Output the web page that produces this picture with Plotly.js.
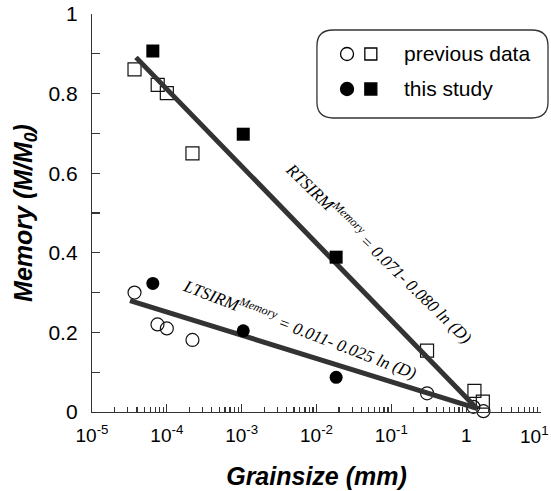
<!DOCTYPE html>
<html>
<head>
<meta charset="utf-8">
<script src="https://cdn.plot.ly/plotly-3.0.1.min.js"></script>
<style>html,body{margin:0;padding:0;background:#fff}#chart{width:551px;height:491px}</style>
</head>
<body>
<div id="chart"></div>
<script>
// ---- data (grain size in mm, memory M/M0) ----
const prevCircleX = [3.7e-5, 7.5e-5, 1.0e-4, 2.2e-4, 0.30, 1.25, 1.70];
const prevCircleY = [0.300, 0.220, 0.210, 0.181, 0.047, 0.013, 0.002];
const prevSquareX = [3.7e-5, 7.55e-5, 1.0e-4, 2.2e-4, 0.30, 1.29, 1.67];
const prevSquareY = [0.861, 0.822, 0.801, 0.650, 0.154, 0.053, 0.026];
const studyCircleX = [6.5e-5, 1.05e-3, 0.0183];
const studyCircleY = [0.323, 0.204, 0.087];
const studySquareX = [6.5e-5, 1.05e-3, 0.0183];
const studySquareY = [0.907, 0.698, 0.389];
const rtFitX = [3.87e-5, 1.39];
const rtFitY = [0.891, 0.009];
const ltFitX = [3.22e-5, 1.39];
const ltFitY = [0.280, 0.009];
const xTickVals = [1e-5, 1e-4, 1e-3, 1e-2, 1e-1, 1, 10];
const xTickText = ['10<sup>-5</sup>', '10<sup>-4</sup>', '10<sup>-3</sup>', '10<sup>-2</sup>', '10<sup>-1</sup>', '1', ''];
const lastTickText = '10<sup>1</sup>';
const minorMultipliers = [2, 3, 4, 5, 6, 7, 8, 9];
const legendLabels = ['previous data', 'this study'];
const ltLabel = '<i>LTSIRM<sup>Memory</sup> = 0.011- 0.025 ln (D)</i>';
const rtLabel = '<i>RTSIRM<sup>Memory</sup> = 0.071- 0.080 ln (D)</i>';

// minor log ticks (axis decoration): 2..9 within each decade
const xMinorVals = [];
xTickVals.slice(0, -1).forEach(d => minorMultipliers.forEach(m => xMinorVals.push(d * m)));

const lineColor = '#333333';
const axisColor = '#333333';
const traces = [
  {x: prevCircleX, y: prevCircleY, type: 'scatter', mode: 'markers', cliponaxis: false,
   marker: {symbol: 'circle-open', size: 13, color: '#111', line: {width: 1.2}}},
  {x: prevSquareX, y: prevSquareY, type: 'scatter', mode: 'markers', cliponaxis: false,
   marker: {symbol: 'square-open', size: 13, color: '#111', line: {width: 1.2}}},
  {x: rtFitX, y: rtFitY, type: 'scatter', mode: 'lines', cliponaxis: false,
   line: {color: lineColor, width: 5}},
  {x: ltFitX, y: ltFitY, type: 'scatter', mode: 'lines', cliponaxis: false,
   line: {color: lineColor, width: 5}},
  {x: studyCircleX, y: studyCircleY, type: 'scatter', mode: 'markers', cliponaxis: false,
   marker: {symbol: 'circle', size: 13, color: '#000'}},
  {x: studySquareX, y: studySquareY, type: 'scatter', mode: 'markers', cliponaxis: false,
   marker: {symbol: 'square', size: 13, color: '#000'}},
  // invisible carrier so the minor-tick overlay axis is drawn
  {x: [xTickVals[0]], y: [0], xaxis: 'x2', type: 'scatter', mode: 'markers',
   marker: {opacity: 0}, hoverinfo: 'skip'}
];

// rounded legend box in paper coordinates
const bx0 = 0.501, bx1 = 1.0156, by0 = 0.7387, by1 = 0.9598, rx = 0.036, ry = 0.040;
const boxPath = `M ${bx0+rx},${by0} L ${bx1-rx},${by0} Q ${bx1},${by0} ${bx1},${by0+ry} L ${bx1},${by1-ry} Q ${bx1},${by1} ${bx1-rx},${by1} L ${bx0+rx},${by1} Q ${bx0},${by1} ${bx0},${by1-ry} L ${bx0},${by0+ry} Q ${bx0},${by0} ${bx0+rx},${by0} Z`;

function mk(type, xc, yc, half, filled) {
  return {type: type, xref: 'paper', yref: 'paper', xsizemode: 'pixel', ysizemode: 'pixel',
    xanchor: xc, yanchor: yc, x0: -half, x1: half, y0: -half, y1: half,
    line: {color: '#000', width: 1.3}, fillcolor: filled ? '#000' : 'rgba(0,0,0,0)'};
}
const row1 = 0.8995, row2 = 0.8116;
const shapes = [
  {type: 'path', xref: 'paper', yref: 'paper', path: boxPath, line: {color: '#333', width: 1.3}, fillcolor: 'rgba(0,0,0,0)'},
  mk('circle', 0.568, row1, 6.5, false),
  mk('rect', 0.621, row1, 6, false),
  mk('circle', 0.568, row2, 6.5, true),
  mk('rect', 0.621, row2, 6, true)
];

const annFont = {family: 'Liberation Serif, Times New Roman, serif', size: 17, color: '#000', style: 'italic'};
const legFont = {family: 'Liberation Sans, Arial, sans-serif', size: 21, color: '#000'};
const tickFontX = {family: 'Liberation Sans, Arial, sans-serif', size: 19, color: '#000'};
const annotations = [
  {xref: 'paper', yref: 'paper', x: 0.690, y: row1, xanchor: 'left', yanchor: 'middle', showarrow: false,
   text: legendLabels[0], font: legFont},
  {xref: 'paper', yref: 'paper', x: 0.690, y: row2, xanchor: 'left', yanchor: 'middle', showarrow: false,
   text: legendLabels[1], font: legFont},
  {xref: 'x', yref: 'y', x: -2.219, y: 0.211, showarrow: false, textangle: 21, text: ltLabel, font: annFont},
  {xref: 'x', yref: 'y', x: -1.163, y: 0.401, showarrow: false, textangle: 44, text: rtLabel, font: annFont},
  // last x tick label kept inside the page edge
  {xref: 'paper', yref: 'paper', x: 1.0223, y: -0.0578, xanchor: 'right', yanchor: 'middle', showarrow: false,
   text: lastTickText, font: tickFontX}
];

const layout = {
  width: 551, height: 491,
  margin: {l: 92, r: 10, t: 14, b: 79},
  paper_bgcolor: '#fff', plot_bgcolor: '#fff',
  showlegend: false,
  font: {family: 'Liberation Sans, Arial, sans-serif', color: '#000'},
  xaxis: {
    type: 'log', range: [-5, 1],
    tickmode: 'array', tickvals: xTickVals, ticktext: xTickText,
    ticks: 'inside', ticklen: 8, tickwidth: 1.2, tickcolor: axisColor,
    showgrid: false, zeroline: false, showline: true, linecolor: axisColor, linewidth: 1.2,
    tickfont: tickFontX, ticklabelstandoff: 6,
    title: {text: '<b><i>Grainsize (mm)</i></b>', font: {size: 25, color: '#000'}, standoff: 22}
  },
  xaxis2: {
    type: 'log', range: [-5, 1], overlaying: 'x', anchor: 'y', side: 'bottom',
    tickmode: 'array', tickvals: xMinorVals, showticklabels: false,
    ticks: 'inside', ticklen: 5, tickwidth: 1.2, tickcolor: axisColor,
    showgrid: false, zeroline: false, showline: false
  },
  yaxis: {
    range: [0, 1], dtick: 0.2, tick0: 0,
    ticks: 'inside', ticklen: 8, tickwidth: 1.2, tickcolor: axisColor,
    minor: {dtick: 0.1, ticks: 'inside', ticklen: 8, tickwidth: 1.2, tickcolor: axisColor, showgrid: false},
    showgrid: false, zeroline: false, showline: true, linecolor: axisColor, linewidth: 1.2,
    tickfont: {size: 21, color: '#000'}, ticklabelstandoff: 9,
    title: {text: '<b><i>Memory (M/M<sub>0</sub>)</i></b>', font: {size: 25, color: '#000'}, standoff: 8}
  },
  shapes: shapes,
  annotations: annotations
};

Plotly.newPlot('chart', traces, layout, {displayModeBar: false, staticPlot: true});
</script>
</body>
</html>
